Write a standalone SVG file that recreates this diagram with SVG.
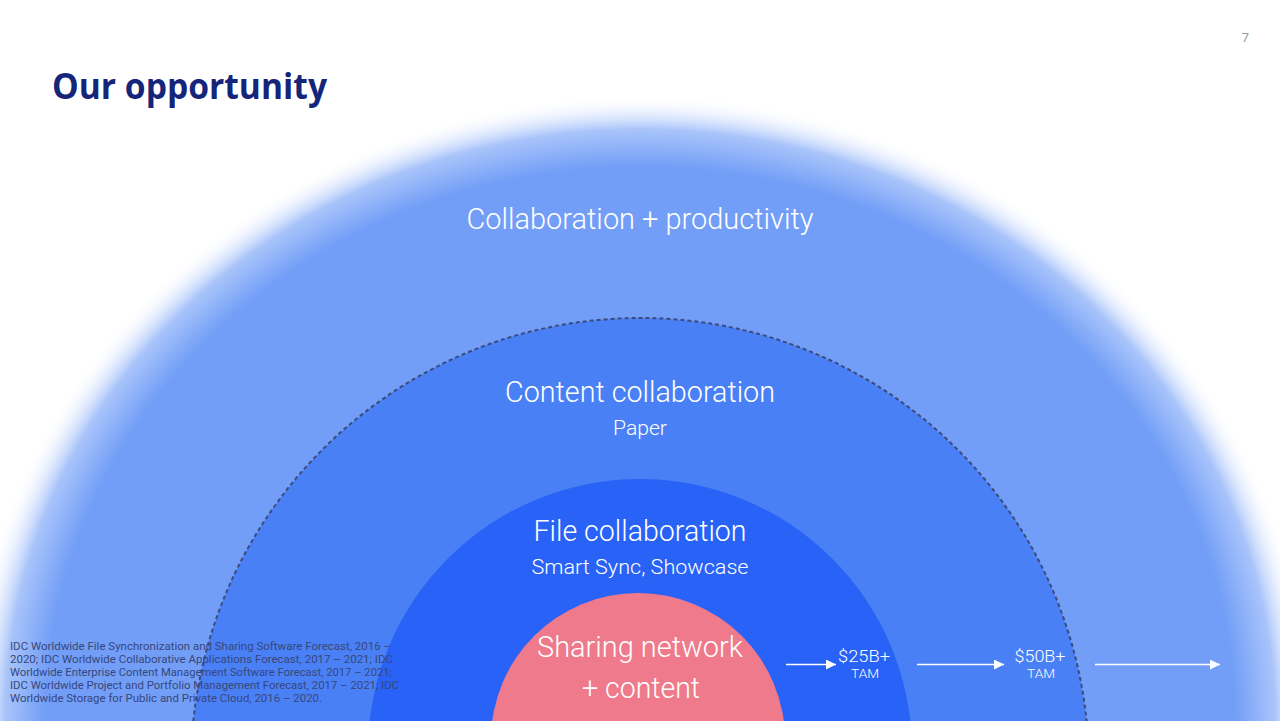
<svg xmlns="http://www.w3.org/2000/svg" width="1280" height="721" viewBox="0 0 1280 721">
<style>
.lbl{font-family:Roboto,"Liberation Sans",sans-serif;font-weight:300;fill:#ffffff;text-anchor:middle}
.big{font-size:29px}
.sub{font-size:20px}
.tam{font-family:Roboto,"Liberation Sans",sans-serif;font-weight:300;fill:#ffffff;text-anchor:middle}
.note{font-family:Roboto,"Liberation Sans",sans-serif;font-size:11px;fill:#37477a}
.arrow{stroke:#ffffff;stroke-width:1.5;fill:none;marker-end:url(#ah)}
</style>
<defs>
<radialGradient id="glow" cx="0.5" cy="0.5" r="0.5">
<stop offset="0" stop-color="#729ef7"/>
<stop offset="0.885" stop-color="#729ef7"/>
<stop offset="0.945" stop-color="#a9c4fa"/>
<stop offset="1" stop-color="#ffffff" stop-opacity="0"/>
</radialGradient>
<marker id="ah" viewBox="0 0 10 10" refX="10" refY="5" markerWidth="10" markerHeight="10" markerUnits="userSpaceOnUse" orient="auto">
<path d="M0,0 L10,5 L0,10 z" fill="#ffffff"/>
</marker>
</defs>
<rect width="1280" height="721" fill="#ffffff"/>
<g id="outer">
<ellipse cx="640" cy="721" rx="672" ry="626" fill="url(#glow)"/>
<text class="lbl big" x="640" y="229" textLength="347" lengthAdjust="spacingAndGlyphs">Collaboration + productivity</text>
</g>
<g id="content">
<circle cx="640" cy="767" r="449" fill="#4a80f5" stroke="#3c4b7c" stroke-width="2" stroke-dasharray="4 3"/>
<text class="lbl big" x="640" y="402" textLength="270" lengthAdjust="spacingAndGlyphs">Content collaboration</text>
<text class="lbl sub" x="640" y="435" textLength="54" lengthAdjust="spacingAndGlyphs">Paper</text>
</g>
<g id="file">
<circle cx="640" cy="751" r="272" fill="#2962f6"/>
<text class="lbl big" x="640" y="541" textLength="213" lengthAdjust="spacingAndGlyphs">File collaboration</text>
<text class="lbl sub" x="640" y="574" textLength="217" lengthAdjust="spacingAndGlyphs">Smart Sync, Showcase</text>
</g>
<g id="sharing">
<circle cx="638" cy="740" r="147" fill="#ee7a8c"/>
<text class="lbl big" x="640" y="657" textLength="206" lengthAdjust="spacingAndGlyphs">Sharing network</text>
<text class="lbl big" x="641" y="698" textLength="118" lengthAdjust="spacingAndGlyphs">+ content</text>
</g>
<g id="connectors">
<line class="arrow" x1="786" y1="664.5" x2="836" y2="664.5"/>
<line class="arrow" x1="917" y1="664.5" x2="1004" y2="664.5"/>
<line class="arrow" x1="1095" y1="664.5" x2="1220" y2="664.5"/>
</g>
<g id="tam25">
<text class="tam" x="864" y="662" font-size="17" textLength="52" lengthAdjust="spacingAndGlyphs">$25B+</text>
<text class="tam" x="865" y="678" font-size="13" textLength="28" lengthAdjust="spacingAndGlyphs">TAM</text>
</g>
<g id="tam50">
<text class="tam" x="1040" y="662" font-size="17" textLength="51" lengthAdjust="spacingAndGlyphs">$50B+</text>
<text class="tam" x="1041" y="678" font-size="13" textLength="28" lengthAdjust="spacingAndGlyphs">TAM</text>
</g>
<text x="52" y="99" font-family="'Open Sans','Liberation Sans',sans-serif" font-weight="700" font-size="35" fill="#15257a" textLength="275" lengthAdjust="spacingAndGlyphs">Our opportunity</text>
<text x="1249" y="42" font-family="Roboto,'Liberation Sans',sans-serif" font-size="13" fill="#9a9a9a" text-anchor="end">7</text>
<g id="footnote">
<text class="note" x="10" y="650" textLength="381" lengthAdjust="spacingAndGlyphs">IDC Worldwide File Synchronization and Sharing Software Forecast, 2016 –</text>
<text class="note" x="10" y="663" textLength="383" lengthAdjust="spacingAndGlyphs">2020; IDC Worldwide Collaborative Applications Forecast, 2017 – 2021; IDC</text>
<text class="note" x="10" y="676" textLength="382" lengthAdjust="spacingAndGlyphs">Worldwide Enterprise Content Management Software Forecast, 2017 – 2021;</text>
<text class="note" x="10" y="689" textLength="389" lengthAdjust="spacingAndGlyphs">IDC Worldwide Project and Portfolio Management Forecast, 2017 – 2021; IDC</text>
<text class="note" x="10" y="702" textLength="312" lengthAdjust="spacingAndGlyphs">Worldwide Storage for Public and Private Cloud, 2016 – 2020.</text>
</g>
</svg>
